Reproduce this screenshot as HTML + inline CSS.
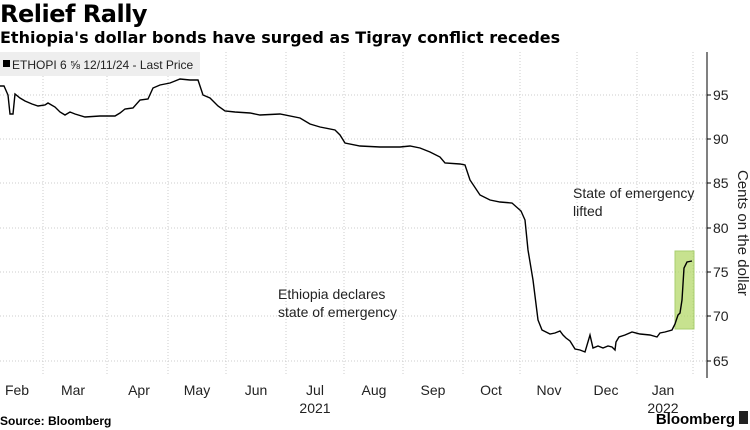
<!DOCTYPE html>
<html><head><meta charset="utf-8"><style>
body{margin:0;background:#fff;font-family:"Liberation Sans",sans-serif;}
.wrap{position:relative;width:750px;height:430px;overflow:hidden;background:#fff}
.t1{position:absolute;left:0;top:0;font-size:24px;font-weight:bold;color:#000;font-family:"DejaVu Sans",sans-serif;letter-spacing:-0.5px}
.t2{position:absolute;left:0;top:28px;font-size:16px;font-weight:bold;color:#000;font-family:"DejaVu Sans",sans-serif;white-space:nowrap}
</style></head><body><div class="wrap">
<div class="t1">Relief Rally</div>
<div class="t2">Ethiopia's dollar bonds have surged as Tigray conflict recedes</div>
<svg width="750" height="430" style="position:absolute;left:0;top:0" font-family="Liberation Sans, sans-serif">
<g stroke="#ccc" stroke-dasharray="1,2" stroke-width="1">
<line x1="0" x2="707" y1="95" y2="95"/><line x1="0" x2="707" y1="139" y2="139"/>
<line x1="0" x2="707" y1="183" y2="183"/><line x1="0" x2="707" y1="228" y2="228"/>
<line x1="0" x2="707" y1="272" y2="272"/><line x1="0" x2="707" y1="316" y2="316"/>
<line x1="0" x2="707" y1="361" y2="361"/>
<line x1="43" x2="43" y1="52" y2="376"/><line x1="107" x2="107" y1="52" y2="376"/>
<line x1="168" x2="168" y1="52" y2="376"/><line x1="226" x2="226" y1="52" y2="376"/>
<line x1="286" x2="286" y1="52" y2="376"/><line x1="344" x2="344" y1="52" y2="376"/>
<line x1="403" x2="403" y1="52" y2="376"/><line x1="463" x2="463" y1="52" y2="376"/>
<line x1="520" x2="520" y1="52" y2="376"/><line x1="577" x2="577" y1="52" y2="376"/>
<line x1="637" x2="637" y1="52" y2="376"/><line x1="693" x2="693" y1="52" y2="376"/>
</g>
<rect x="0" y="52" width="200" height="24" fill="#eee"/>
<rect x="3" y="60" width="7" height="7" fill="#000"/>
<text x="12" y="69" font-size="12" fill="#222">ETHOPI 6 ⅝ 12/11/24 - Last Price</text>
<rect x="675" y="251" width="19" height="78" fill="#b5d96a" opacity="0.75" stroke="#8cbf3f"/>
<polyline fill="none" stroke="#000" stroke-width="1.4" points="0,86 4,86 8,95 10,114 13,114 15,94 20,98 25,101 32,104 38,106 45,105 48,103 55,107 60,112 65,115 70,112 75,114 85,117 100,116 115,116 120,113 125,109 133,108 140,100 148,99 153,88 160,85 170,83 175,81 180,79 190,80 198,80 203,95 210,98 218,106 225,111 235,112 250,113 260,115 280,114 300,118 310,124 320,127 335,130 340,135 345,143 360,146 380,147 400,147 410,146 420,148 430,152 440,157 445,163 460,164 465,165 470,180 480,195 490,200 500,202 512,203 521,211 525,220 528,250 533,280 538,320 542,330 548,333 550,334 555,333 560,331 563,335 566,338 570,341 575,349 580,350 585,352 590,335 593,348 598,346 603,348 608,346 612,347 615,350 616,342 619,337 625,335 632,332 640,334 650,335 657,337 660,333 665,332 672,330 675,324 678,315 680,313 682,300 684,268 687,262 692,261"/>
<line x1="707" x2="707" y1="52" y2="378" stroke="#000"/>
<g stroke="#000"><line x1="707" x2="711" y1="95" y2="95"/><line x1="707" x2="711" y1="139" y2="139"/><line x1="707" x2="711" y1="183" y2="183"/><line x1="707" x2="711" y1="228" y2="228"/><line x1="707" x2="711" y1="272" y2="272"/><line x1="707" x2="711" y1="316" y2="316"/><line x1="707" x2="711" y1="361" y2="361"/></g>
<g font-size="14" fill="#222">
<text x="713" y="100">95</text><text x="713" y="144">90</text><text x="713" y="188">85</text><text x="713" y="233">80</text><text x="713" y="277">75</text><text x="713" y="321">70</text><text x="713" y="366">65</text>
<text x="17" y="395" text-anchor="middle">Feb</text><text x="73" y="395" text-anchor="middle">Mar</text><text x="139" y="395" text-anchor="middle">Apr</text><text x="197" y="395" text-anchor="middle">May</text><text x="256" y="395" text-anchor="middle">Jun</text><text x="315" y="395" text-anchor="middle">Jul</text><text x="374" y="395" text-anchor="middle">Aug</text><text x="433" y="395" text-anchor="middle">Sep</text><text x="491" y="395" text-anchor="middle">Oct</text><text x="549" y="395" text-anchor="middle">Nov</text><text x="606" y="395" text-anchor="middle">Dec</text><text x="663" y="395" text-anchor="middle">Jan</text>
<text x="315" y="413" text-anchor="middle">2021</text><text x="663" y="413" text-anchor="middle">2022</text>
<text x="573" y="198">State of emergency</text><text x="573" y="216">lifted</text>
<text x="278" y="299">Ethiopia declares</text><text x="278" y="317">state of emergency</text>
<text transform="translate(738,170) rotate(90)" font-size="15">Cents on the dollar</text>
</g>
<text x="0" y="425" font-size="12" font-weight="bold" fill="#000">Source: Bloomberg</text>
<text x="735" y="424" font-size="15" font-weight="bold" fill="#000" text-anchor="end">Bloomberg</text>
<rect x="739" y="411" width="9" height="13" fill="#222"/>
</svg>
</div></body></html>
